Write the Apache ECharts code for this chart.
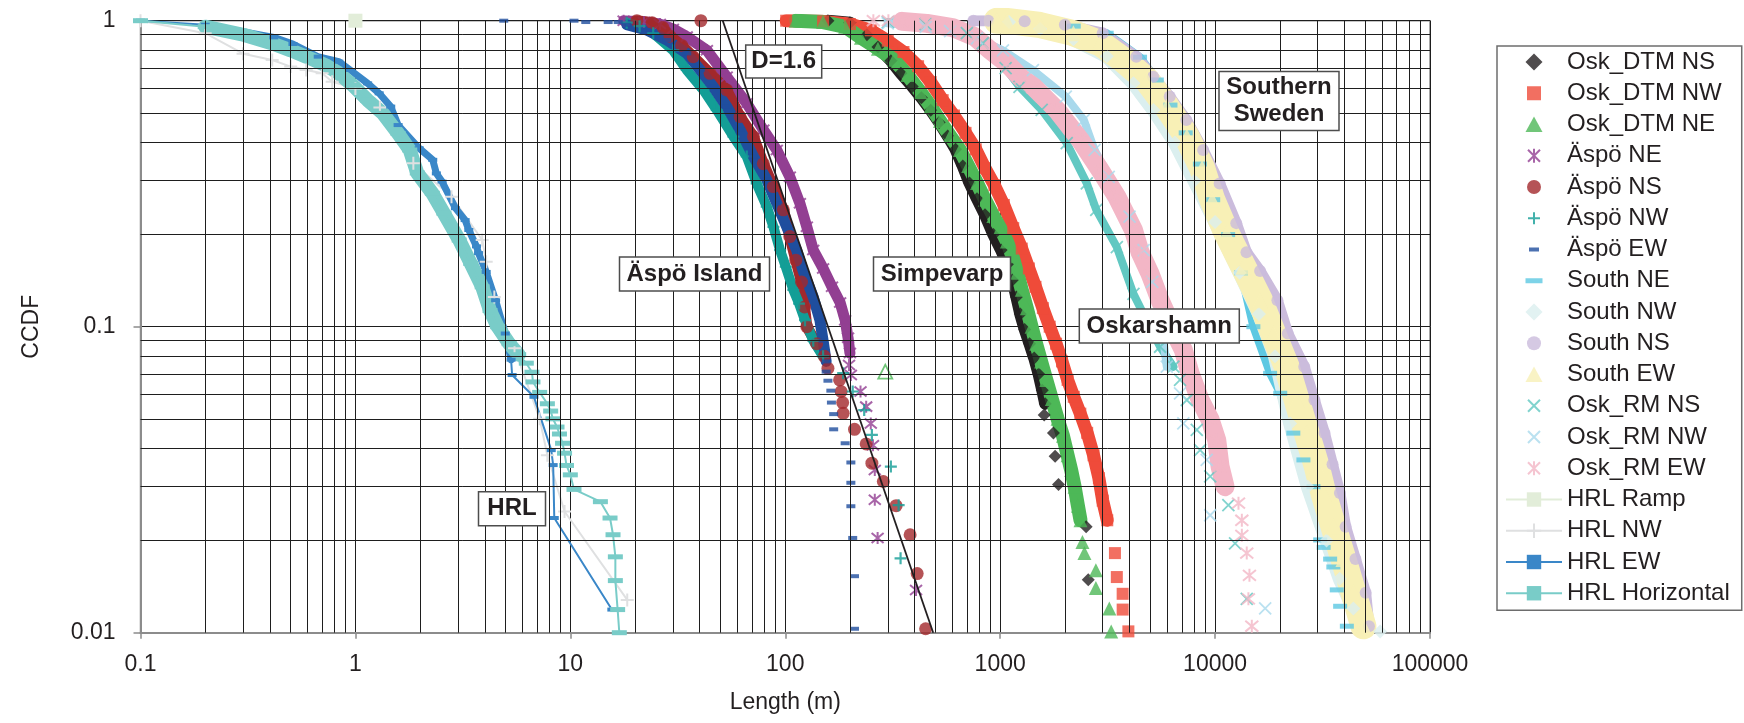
<!DOCTYPE html>
<html><head><meta charset="utf-8">
<script src="https://cdn.jsdelivr.net/npm/echarts@6/dist/echarts.min.js"></script>
<style>html,body{margin:0;padding:0;background:#fff}#c{width:1744px;height:723px}</style>
</head><body><div id="c"></div>
<script>
// ---------------- DATA ----------------
const xTickLabels = ['0.1','1','10','100','1000','10000','100000'];
const yTickLabels = ['0.01','0.1','1'];

const oskDtmNS_band = [[158,1.0],[200,0.985],[240,0.9],[270,0.82],[310,0.74],[345,0.673],[390,0.61],[430,0.56],[475,0.51],[520,0.465],[570,0.42],[620,0.38],[670,0.335],[720,0.295],[780,0.262],[850,0.232],[930,0.2],[1010,0.178],[1080,0.16],[1140,0.142],[1190,0.125],[1240,0.11],[1300,0.098],[1370,0.088],[1440,0.079],[1510,0.07],[1570,0.062],[1620,0.056]];
const oskDtmNS_tail = [[1603,0.0515],[1770,0.0449],[1802,0.0377],[1868,0.0305],[2511,0.0222],[2569,0.0149]];

const oskDtmNW_band = [[101,1.0],[150,0.995],[200,0.975],[250,0.93],[300,0.86],[355,0.79],[415,0.71],[475,0.63],[540,0.55],[610,0.49],[690,0.43],[770,0.38],[850,0.33],[940,0.29],[1040,0.25],[1150,0.21],[1260,0.18],[1360,0.155],[1460,0.135],[1580,0.115],[1700,0.1],[1820,0.088],[1940,0.077],[2060,0.067],[2200,0.059],[2360,0.052],[2540,0.045],[2720,0.038],[2880,0.032],[3000,0.027],[3150,0.0233]];
const oskDtmNW_tail = [[3420,0.0182],[3490,0.0152],[3715,0.0134],[3715,0.0119],[3950,0.0101]];

const oskDtmNE_band = [[112,1.0],[150,0.99],[190,0.955],[225,0.88],[270,0.81],[320,0.745],[370,0.665],[425,0.585],[475,0.525],[525,0.47],[585,0.42],[650,0.378],[710,0.335],[780,0.295],[850,0.26],[930,0.23],[1000,0.21],[1075,0.19],[1140,0.17],[1200,0.15],[1260,0.132],[1330,0.115],[1400,0.1],[1470,0.088],[1550,0.077],[1640,0.067],[1740,0.058],[1850,0.05],[1960,0.044],[2060,0.038],[2140,0.034],[2220,0.03],[2300,0.026],[2365,0.0233]];
const oskDtmNE_tail = [[2415,0.0198],[2466,0.0182],[2788,0.016],[2788,0.014],[3220,0.012],[3285,0.0101]];
const openTriangle = [[292,0.0713]];

const aspoNE_band = [[17.7,1.0],[22,0.99],[26.1,0.975],[30,0.94],[34.8,0.887],[43.2,0.8],[53.4,0.656],[66.2,0.537],[79.1,0.44],[91.3,0.378],[105,0.309],[117,0.253],[126,0.212],[135,0.178],[150,0.155],[165,0.135],[180,0.12],[190,0.105],[196,0.092],[200,0.082]];
const aspoNE_tail = [[198,0.075],[202,0.0695],[224,0.0614],[238,0.0548],[250,0.0483],[256,0.041],[261,0.034],[261,0.0272],[269,0.0204],[406,0.0138]];

const aspoNS_band = [[20.4,1.0],[24,0.985],[27,0.95],[29.1,0.89],[33,0.83],[37.3,0.763],[44.7,0.673],[53.4,0.594],[61.6,0.486],[71.1,0.418],[79.1,0.341],[88.1,0.287],[98,0.241],[105,0.197],[112,0.165],[119,0.14],[123,0.116],[126,0.1],[140,0.088],[152,0.08]];
const aspoNS_tail = [[40.5,1.0],[158,0.0731],[179,0.067],[182,0.0614],[185,0.0565],[186,0.0521],[210,0.0462],[238,0.0414],[253,0.0358],[286,0.0312],[328,0.026],[381,0.0209],[411,0.0156],[450,0.0103]];

const aspoNW_band = [[18.3,0.985],[21,0.96],[24.3,0.91],[30.1,0.8],[34.8,0.69],[41.6,0.594],[48,0.511],[57.4,0.418],[66.2,0.36],[73.6,0.294],[82,0.247],[88.1,0.212],[94.6,0.178],[100.6,0.157],[109,0.132],[116,0.119],[123.6,0.105],[135,0.09],[150,0.08]];
const aspoNW_tail = [[186,0.0705],[206,0.0614],[233,0.0534],[253,0.0443],[310,0.0349],[337,0.0261],[344,0.0175]];

const aspoEW_band = [[18.3,0.97],[22.6,0.933],[28.1,0.865],[34.8,0.782],[40.2,0.69],[46.3,0.608],[53.4,0.524],[61.6,0.44],[71.1,0.36],[82,0.302],[91.3,0.253],[101.6,0.212],[113,0.178],[122,0.15],[135,0.125],[145,0.105],[150,0.09],[155,0.077]];
const aspoEW_tail = [[4.9,1.0],[10.4,1.0],[11.8,0.99],[15,0.99],[16.7,0.99],[155,0.0713],[158,0.0666],[163,0.0618],[164,0.0565],[168,0.0518],[168,0.0462],[190,0.0416],[202,0.036],[202,0.0309],[202,0.0259],[206,0.0204],[210,0.0153],[210,0.0103]];

const southNE_band = [[2200,0.96],[3130,0.91],[4475,0.76],[5356,0.64],[6200,0.53],[7300,0.43],[8500,0.34],[9800,0.26],[11500,0.2],[13200,0.15],[15070,0.1],[18030,0.0704],[20100,0.0606],[23120,0.0449],[25760,0.0367],[28700,0.03]];
const southNE_tail = [[30830,0.0201],[32000,0.019],[34300,0.0174],[35500,0.0164],[36830,0.0138],[38180,0.0122],[41030,0.0105]];

const southNW_band = [[1100,0.99],[1535,0.94],[2193,0.87],[3134,0.765],[4170,0.624],[5165,0.511],[6500,0.4],[8000,0.3],[10000,0.22],[13000,0.15],[16000,0.11],[19000,0.08],[22350,0.0483],[27000,0.03],[33000,0.02],[38000,0.015],[44000,0.012]];
const southNW_tail = [[58600,0.0101]];

const southNS_band = [[750,1.0],[881,1.0],[1300,0.995],[2000,0.97],[3000,0.91],[4300,0.763],[5150,0.656],[6150,0.565],[7350,0.474],[8800,0.378],[10500,0.294],[12550,0.218],[14000,0.175],[16200,0.152],[19500,0.122],[21800,0.095],[26000,0.074],[29000,0.0576],[32300,0.0449],[35200,0.0355],[38100,0.0286],[40500,0.0222],[45000,0.0174],[50200,0.0135],[52000,0.0105]];
const southNS_tail = [];

const southEW_band = [[964,1.0],[1074,0.998],[1535,0.968],[2193,0.91],[2918,0.844],[3745,0.744],[4812,0.64],[5960,0.524],[7385,0.418],[8700,0.33],[9700,0.26],[11320,0.202],[13540,0.157],[16190,0.122],[18660,0.095],[21530,0.074],[23970,0.0576],[26700,0.0449],[29740,0.0349],[31950,0.0285],[35560,0.0222],[39570,0.0174],[44060,0.0135],[49000,0.0105]];
const southEW_tail = [];

const oskRmNS_band = [[300,0.99],[450,0.975],[700,0.91],[830,0.844],[1060,0.7],[1230,0.608],[1560,0.511],[2040,0.398],[2530,0.294],[2800,0.241],[3490,0.182],[4170,0.128],[4800,0.105],[5546,0.086],[6400,0.074]];
const oskRmNS_tail = [[6870,0.067],[7385,0.0576],[8220,0.046],[8520,0.0395],[9490,0.0324],[11530,0.0261],[12390,0.0196],[14040,0.0129]];

const oskRmNW_band = [[300,0.98],[450,0.955],[585,0.925],[780,0.875],[1030,0.8],[1420,0.69],[2020,0.565],[2450,0.474],[2750,0.378],[3200,0.309],[4000,0.229],[4650,0.178],[5100,0.14],[5550,0.11],[5960,0.074]];
const oskRmNW_tail = [[6870,0.0606],[7115,0.0483],[9140,0.0367],[9490,0.0242],[17100,0.012]];

const oskRmEW_band = [[350,0.995],[456,0.98],[600,0.95],[760,0.887],[900,0.8],[1074,0.726],[1250,0.65],[1430,0.608],[1834,0.511],[2355,0.408],[2918,0.325],[3490,0.266],[4170,0.207],[4478,0.175],[5000,0.148],[5546,0.122],[6300,0.1],[7115,0.084],[7650,0.0704],[8520,0.0576],[9490,0.0496],[10180,0.0426],[10550,0.0349],[11130,0.03]];
const oskRmEW_tail = [[257,1.0],[302,1.0],[12850,0.0265],[13320,0.0233],[13320,0.0208],[14040,0.0182],[14450,0.0154],[14290,0.0129],[14820,0.0105]];

const hrlRamp = [[1,1]];
const hrlNW = [[0.1,1],[0.2,0.91],[0.3,0.78],[0.41,0.744],[0.5,0.708],[0.59,0.69],[0.7,0.673],[0.78,0.632],[1.0,0.6],[1.3,0.52],[1.86,0.342],[2.8,0.266],[3.89,0.192],[4.06,0.163],[4.43,0.125],[5.5,0.085],[7.2,0.05],[7.82,0.038],[9.4,0.0249],[18.4,0.0128]];
const hrlEW = [[0.1,1],[0.2,0.97],[0.417,0.882],[0.512,0.839],[0.668,0.763],[0.837,0.735],[0.946,0.69],[1.14,0.624],[1.29,0.579],[1.46,0.524],[1.58,0.456],[1.98,0.383],[2.29,0.351],[2.38,0.317],[2.53,0.298],[2.92,0.244],[3.24,0.223],[3.37,0.207],[3.66,0.183],[3.74,0.174],[4.06,0.151],[4.49,0.122],[4.98,0.095],[5.3,0.078],[5.36,0.0695],[6.77,0.059],[8.15,0.0395],[8.32,0.0353],[8.42,0.0237],[15.6,0.0119]];
const hrlHorizontal = [[0.1,1],[0.2,0.956],[0.304,0.898],[0.408,0.844],[0.5,0.8],[0.59,0.763],[0.725,0.716],[0.82,0.68],[0.97,0.616],[1.14,0.55],[1.34,0.498],[1.58,0.428],[1.79,0.378],[1.94,0.318],[2.28,0.273],[2.58,0.235],[3.04,0.192],[3.44,0.161],[3.89,0.135],[4.23,0.113],[4.59,0.1],[5.19,0.088],[5.75,0.081],[6.24,0.076],[6.63,0.071],[6.7,0.066],[7.2,0.061],[7.82,0.056],[8.1,0.053],[8.3,0.05],[8.67,0.047],[8.9,0.0446],[9.2,0.0416],[9.4,0.0386],[9.6,0.0352],[10,0.0328],[10.4,0.0294],[13.8,0.0268],[15.3,0.0237],[15.8,0.0209],[16.2,0.0177],[16.2,0.0148],[16.6,0.0119],[16.9,0.01]];

const d16Line = [[51.2,1],[488,0.01]];

// ---------------- STYLE ----------------
const TXT = '#231f20';
const X_SYM = 'path://M0,0L10,10M10,0L0,10';
const AST_SYM = 'path://M1,1L11,11M11,1L1,11M6,0L6,12';
const PLUS_SYM = 'path://M6,0L6,12M0,6L12,6';

// legend icons (56 x 18 box, shape centred)
const BOX = 'path://M0,0M56,18';
const IC = {
  diamond: BOX + 'M28,0.5L36.5,9L28,17.5L19.5,9Z',
  square: BOX + 'M21,2L35,2L35,16L21,16Z',
  triangle: BOX + 'M28,1L36.5,16.5L19.5,16.5Z',
  circle: BOX + 'M21,9A7,7,0,1,0,35,9A7,7,0,1,0,21,9Z',
  asterisk: BOX + 'M22,3L34,15M34,3L22,15M28,2L28,16',
  plus: BOX + 'M28,3L28,15M22,9L34,9',
  cross: BOX + 'M22,3L34,15M34,3L22,15',
  dashS: BOX + 'M23,7L33,7L33,11L23,11Z',
  dashW: BOX + 'M19.5,6.5L36.5,6.5L36.5,11.5L19.5,11.5Z'
};

function band(name, pts, color, width) {
  return {type:'line', name:name+' band', data:pts, symbol:'none', showSymbol:false, silent:true,
    animation:false, lineStyle:{color:color, width:width, cap:'round', join:'round'}, z:2};
}
function marks(name, pts, symbol, size, color, stroke) {
  return {type:'scatter', name:name, data:pts, symbol:symbol, symbolSize:size, silent:true, animation:false, z:2,
    itemStyle: stroke ? {color:color, borderColor:color, borderWidth:stroke} : {color:color, borderWidth:0}};
}
function lineS(name, pts, symbol, size, color, lw, stroke) {
  return {type:'line', name:name, data:pts, symbol:symbol, symbolSize:size, showSymbol:true, showAllSymbol:true,
    silent:true, animation:false, z:2, lineStyle:{color:color, width:lw},
    itemStyle: stroke ? {color:color, borderColor:color, borderWidth:stroke} : {color:color, borderWidth:0}};
}

const xMinor = [], yMinor = [];
for (let e = -1; e < 5; e++) for (let k = 2; k <= 9; k++) xMinor.push(+(k*Math.pow(10,e)).toPrecision(3));
for (let e = -2; e < 0; e++) for (let k = 2; k <= 9; k++) yMinor.push(+(k*Math.pow(10,e)).toPrecision(3));

// name, band, tail, symbol, size, colour, stroke, band width, legend icon
const DS = [
  ['Osk_DTM NS', oskDtmNS_band, oskDtmNS_tail, 'diamond', 13, '#231f20', 0, 12, IC.diamond],
  ['Osk_DTM NW', oskDtmNW_band, oskDtmNW_tail, 'rect', 12, '#ef4b3a', 0, 13, IC.square],
  ['Osk_DTM NE', oskDtmNE_band, oskDtmNE_tail, 'triangle', 14, '#4db857', 0, 14, IC.triangle],
  ['Äspö NE', aspoNE_band, aspoNE_tail, AST_SYM, 12, '#923f92', 2, 11, IC.asterisk],
  ['Äspö NS', aspoNS_band, aspoNS_tail, 'circle', 13, '#a2282c', 0, 11, IC.circle],
  ['Äspö NW', aspoNW_band, aspoNW_tail, PLUS_SYM, 12, '#139e96', 2.2, 10, IC.plus],
  ['Äspö EW', aspoEW_band, aspoEW_tail, 'rect', [9,4], '#1f4e9e', 0, 11, IC.dashS],
  ['South NE', southNE_band, southNE_tail, 'rect', [14,5], '#5dc8e2', 0, 8, IC.dashW],
  ['South NW', southNW_band, southNW_tail, 'diamond', 14, '#dbefef', 0, 14, IC.diamond],
  ['South NS', southNS_band, southNS_tail, 'circle', 12, '#cbbcdc', 0, 11, IC.circle],
  ['South EW', southEW_band, southEW_tail, 'triangle', 16, '#f8f0b6', 0, 26, IC.triangle],
  ['Osk_RM NS', oskRmNS_band, oskRmNS_tail, X_SYM, 12, '#62c8c2', 1.8, 8, IC.cross],
  ['Osk_RM NW', oskRmNW_band, oskRmNW_tail, X_SYM, 12, '#a9d9ec', 1.8, 8, IC.cross],
  ['Osk_RM EW', oskRmEW_band, oskRmEW_tail, AST_SYM, 13, '#f3b6c6', 2, 19, IC.asterisk]
];

const series = [{
  type:'scatter', name:'gridlines', data:[], silent:true, z:1,
  markLine:{silent:true, symbol:['none','none'], animation:false, label:{show:false},
    lineStyle:{color:'#1e1e1e', width:1, type:'solid'},
    emphasis:{disabled:true},
    data:[...xMinor.map(v=>({xAxis:v})), ...yMinor.map(v=>({yAxis:v}))]}
}];
DS.forEach(d => {
  series.push(band(d[0], d[1], d[5], d[7]));
  series.push(marks(d[0], d[1].concat(d[2]), d[3], d[4], d[5], d[6]));
});
series.push({type:'scatter', name:'open', data:openTriangle, symbol:'triangle', symbolSize:14, silent:true, animation:false, z:2,
  itemStyle:{color:'#ffffff', borderColor:'#4db857', borderWidth:1.8}});
series.push(lineS('HRL Ramp', hrlRamp, 'rect', 14, '#e2edd9', 2));
series.push(lineS('HRL NW', hrlNW, PLUS_SYM, 13, '#dfe0e1', 2, 2));
series.push(band('HRL EW', hrlEW.filter(p => p[1] > 0.075 && p[0] > 0.15), '#3a87c8', 7));
series.push(lineS('HRL EW', hrlEW, 'rect', [9,4], '#3a87c8', 2));
series.push(band('HRL Horizontal', hrlHorizontal.filter(p => p[1] > 0.078 && p[0] > 0.15), '#79ccc8', 14));
series.push(lineS('HRL Horizontal', hrlHorizontal, 'rect', [15,5], '#79ccc8', 2));
series.push({type:'line', name:'D=1.6', data:d16Line, symbol:'none', silent:true, animation:false, z:5,
  lineStyle:{color:'#231f20', width:1.8}});

const legendData = DS.map(d => ({name:d[0], icon:d[8]}))
  .concat(['HRL Ramp','HRL NW','HRL EW','HRL Horizontal'].map(n => ({name:n})));

function box(cx, cy, w, h, text) {
  return {type:'group', z:100, children:[
    {type:'rect', shape:{x:cx-w/2, y:cy-h/2, width:w, height:h}, style:{fill:'#fff', stroke:'#4d4d4d', lineWidth:1.5}, z:100},
    {type:'text', x:cx, y:cy, z:101, style:{text:text, align:'center', verticalAlign:'middle', textAlign:'center', textVerticalAlign:'middle',
      fontFamily:'Liberation Sans', fontWeight:'bold', fontSize:24, lineHeight:27, fill:TXT}}
  ]};
}

function fmt(v) { return String(+(+v).toPrecision(6)); }

const option = {
  animation:false,
  backgroundColor:'#ffffff',
  grid:{left:140.5, right:314, top:20.7, bottom:90.3, show:true, borderColor:'#8c8c8c', borderWidth:1.5, containLabel:false},
  xAxis:{type:'log', logBase:10, min:0.1, max:100000, splitNumber:6,
    name:'Length (m)', nameLocation:'middle', nameGap:58,
    nameTextStyle:{fontFamily:'Liberation Sans', fontSize:23, color:TXT},
    axisLine:{show:true, onZero:false, lineStyle:{color:'#8c8c8c', width:2}},
    axisTick:{show:true, length:6, lineStyle:{color:'#8c8c8c', width:1.5}},
    axisLabel:{fontFamily:'Liberation Sans', fontSize:23, color:TXT, margin:20, formatter:fmt},
    splitLine:{show:true, lineStyle:{color:'#1e1e1e', width:1}},
    minorTick:{show:false}, minorSplitLine:{show:false}},
  yAxis:{type:'log', logBase:10, min:0.01, max:1, splitNumber:2,
    name:'CCDF', nameLocation:'middle', nameGap:97, nameRotate:90,
    nameTextStyle:{fontFamily:'Liberation Sans', fontSize:23, color:TXT},
    axisLine:{show:true, onZero:false, lineStyle:{color:'#8c8c8c', width:2}},
    axisTick:{show:true, length:7, lineStyle:{color:'#8c8c8c', width:1.5}},
    axisLabel:{fontFamily:'Liberation Sans', fontSize:23, color:TXT, margin:25, formatter:fmt},
    splitLine:{show:true, lineStyle:{color:'#1e1e1e', width:1}},
    minorTick:{show:false}, minorSplitLine:{show:false}},
  legend:{orient:'vertical', left:1497, top:46, padding:[4,12,5,8], itemGap:7.25, itemWidth:56, itemHeight:18,
    borderColor:'#6d6d6d', borderWidth:1.5, backgroundColor:'#fff', selectedMode:false,
    textStyle:{fontFamily:'Liberation Sans', fontSize:24, color:TXT, lineHeight:24},
    data:legendData},
  series:series,
  graphic:[
    box(783.7, 61.5, 76, 33, 'D=1.6'),
    box(694.5, 274, 150, 34, 'Äspö Island'),
    box(942, 274, 137, 34, 'Simpevarp'),
    box(1159.3, 326, 160, 34, 'Oskarshamn'),
    box(1279, 101, 120, 59, 'Southern\nSweden'),
    box(512, 508.7, 67, 34, 'HRL')
  ]
};

const chart = echarts.init(document.getElementById('c'), null, {renderer:'canvas'});
chart.setOption(option);
</script></body></html>
